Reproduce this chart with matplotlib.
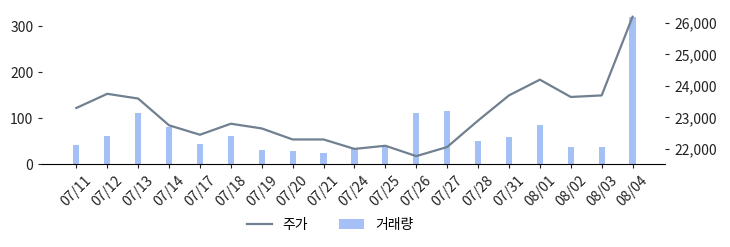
import matplotlib
matplotlib.use("Agg")
import matplotlib.pyplot as plt
from matplotlib.ticker import FuncFormatter
import numpy as np

plt.rcParams['font.family'] = ['Noto Sans CJK KR', 'DejaVu Sans']

dates = ["07/11", "07/12", "07/13", "07/14", "07/17", "07/18", "07/19", "07/20",
         "07/21", "07/24", "07/25", "07/26", "07/27", "07/28", "07/31", "08/01",
         "08/02", "08/03", "08/04"]
volume = [42, 61, 112, 81, 44, 61, 31, 28, 24, 33, 36, 112, 116, 50, 59, 85, 37, 37, 321]
price = [23300, 23750, 23600, 22750, 22450, 22800, 22650, 22300, 22300, 22000,
         22100, 21770, 22060, 22900, 23700, 24200, 23650, 23700, 26200]

x = np.arange(len(dates))

fig = plt.figure(figsize=(7.3, 2.47), dpi=100)
ax = fig.add_axes([0.058, 0.336, 0.853, 0.632])

# volume bars on the left axis
ax.bar(x, volume, width=0.2, color="#a5c0f5", label="거래량", zorder=1)
ax.set_ylim(0, 340)
ax.set_yticks([0, 100, 200, 300])
ax.set_xlim(-1.1, 19.05)
ax.set_xticks(x)
ax.set_xticklabels(dates, rotation=45, ha="center")
for s in ["top", "left", "right"]:
    ax.spines[s].set_visible(False)
ax.tick_params(labelsize=10, colors="#222222", length=3)

# price line on the right axis
ax2 = ax.twinx()
ax2.plot(x, price, color="#708090", lw=1.6, label="주가")
ax2.set_ylim(21520, 26480)
ax2.set_yticks([22000, 23000, 24000, 25000, 26000])
ax2.yaxis.set_major_formatter(FuncFormatter(lambda v, p: f"{int(v):,}"))
for s in ["top", "left", "right", "bottom"]:
    ax2.spines[s].set_visible(False)
ax2.tick_params(labelsize=10, colors="#222222", length=3)

h1, l1 = ax2.get_legend_handles_labels()
h2, l2 = ax.get_legend_handles_labels()
fig.legend(h1 + h2, l1 + l2, loc="center", bbox_to_anchor=(0.452, 0.09),
           ncol=2, frameon=False, fontsize=10, handlelength=1.8, columnspacing=2.2)

fig.savefig("out.png", dpi=100)
